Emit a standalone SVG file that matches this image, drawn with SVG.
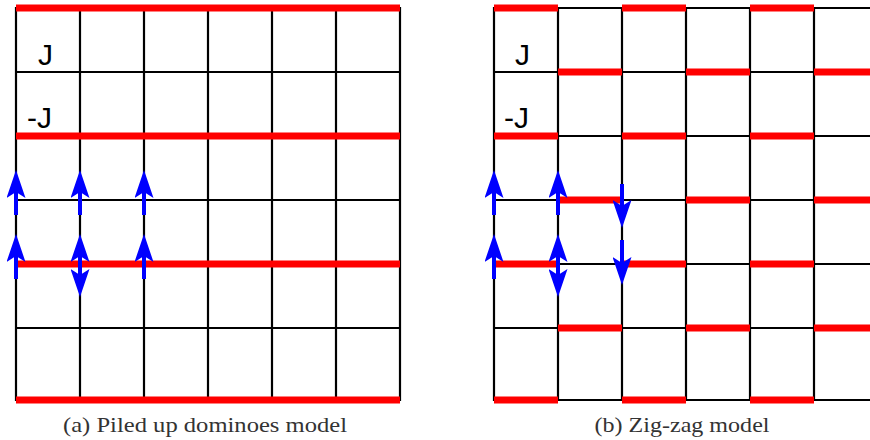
<svg xmlns="http://www.w3.org/2000/svg" width="870" height="440" viewBox="0 0 870 440">
<style>
.grid{stroke:#000;stroke-width:2.2;fill:none}
.red{stroke:#ff0000;stroke-width:7;fill:none}
.arr{stroke:#0000ff;stroke-width:4;fill:none}
.lbl{font-family:"Liberation Sans",Arial,sans-serif;font-size:30px;fill:#000}
.cap{font-family:"Liberation Serif","DejaVu Serif","Times New Roman",serif;font-size:21px;fill:#333;text-anchor:middle}
</style>
<defs>
<marker id="ah" viewBox="0 0 28 19" markerUnits="userSpaceOnUse" markerWidth="28" markerHeight="19" refX="12" refY="9.5" orient="auto-start-reverse">
<path d="M0,0 L28,9.5 L0,19 L6,9.5 z" fill="#0000ff"/>
</marker>
</defs>
<rect width="870" height="440" fill="#fff"/>

<g id="panel-a">
<g id="grid-a" class="grid">
<path d="M16,7V401M80,7V401M144,7V401M208,7V401M272,7V401M336,7V401M400,7V401"/>
<path d="M16,72H400M16,200H400M16,328H400"/>
</g>
<g id="red-a" class="red">
<path d="M16,8H400M16,136H400M16,264H400M16,400H400"/>
</g>
<g id="labels-a">
<text class="lbl" x="38" y="65">J</text>
<text class="lbl" x="27" y="128">-J</text>
</g>
</g>

<g id="panel-b">
<g id="grid-b" class="grid">
<path d="M494,7V401M558,7V401M622,7V401M686,7V401M750,7V401M814,7V401"/>
<path d="M494,8H870M494,72H870M494,136H870M494,200H870M494,264H870M494,328H870M494,400H870"/>
</g>
<g id="red-b" class="red">
<path d="M494,8H558M622,8H686M750,8H814"/>
<path d="M558,72H622M686,72H750M814,72H870"/>
<path d="M494,136H558M622,136H686M750,136H814"/>
<path d="M558,200H622M686,200H750M814,200H870"/>
<path d="M494,264H558M622,264H686M750,264H814"/>
<path d="M558,328H622M686,328H750M814,328H870"/>
<path d="M494,400H558M622,400H686M750,400H814"/>
</g>
<g id="labels-b">
<text class="lbl" x="515" y="65">J</text>
<text class="lbl" x="504" y="128">-J</text>
</g>
</g>

<g id="connectors">
<path class="arr" marker-end="url(#ah)" d="M16,215V186"/>
<path class="arr" marker-end="url(#ah)" d="M16,279V250"/>
<path class="arr" marker-end="url(#ah)" d="M80,215V186"/>
<path class="arr" marker-start="url(#ah)" marker-end="url(#ah)" d="M80,250V281"/>
<path class="arr" marker-end="url(#ah)" d="M144,215V186"/>
<path class="arr" marker-end="url(#ah)" d="M144,279V250"/>
<path class="arr" marker-end="url(#ah)" d="M494,215V186"/>
<path class="arr" marker-end="url(#ah)" d="M494,279V250"/>
<path class="arr" marker-end="url(#ah)" d="M558,215V186"/>
<path class="arr" marker-start="url(#ah)" marker-end="url(#ah)" d="M558,250V281"/>
<path class="arr" marker-end="url(#ah)" d="M622,184V212"/>
<path class="arr" marker-end="url(#ah)" d="M622,240V269"/>
</g>

<g id="captions">
<text class="cap" x="205" y="432" textLength="284" lengthAdjust="spacingAndGlyphs">(a) Piled up dominoes model</text>
<text class="cap" x="682" y="432" textLength="175" lengthAdjust="spacingAndGlyphs">(b) Zig-zag model</text>
</g>
</svg>
